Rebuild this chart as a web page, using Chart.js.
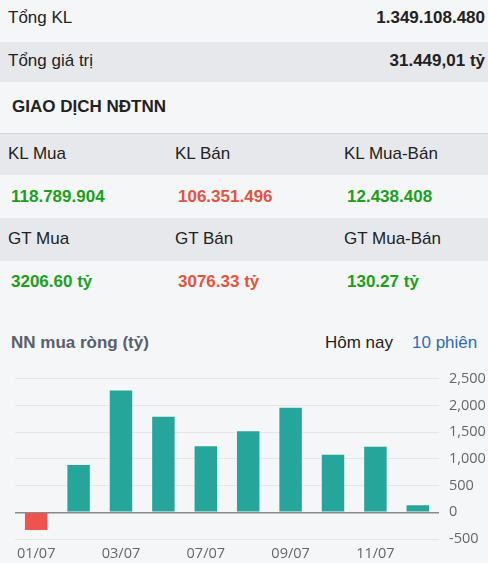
<!DOCTYPE html>
<html>
<head>
<meta charset="utf-8">
<script src="https://cdn.jsdelivr.net/npm/chart.js@4"></script>
<style>
  body { margin: 0; width: 488px; height: 563px; background: #f5f6f8; font-family: Arial, "Liberation Sans", sans-serif; color: #222; overflow: hidden; position: relative; }
  .row { position: absolute; left: 0; width: 488px; }
  .grey { background: #e6e8ec; }
  .t { position: absolute; font-size: 17px; white-space: nowrap; }
  .b { font-weight: bold; font-size: 17px; }
  .up { color: #1aa01a; }
  .down { color: #e5533f; }
  #chart { position: absolute; left: 0; top: 360px; }
</style>
</head>
<body>
<div class="row" style="top:0;height:42px"></div>
<div class="row grey" style="top:42px;height:40px"></div>
<div class="row" style="top:133px;height:1px;background:#d3d6db"></div>
<div class="row grey" style="top:134px;height:41px"></div>
<div class="row grey" style="top:218px;height:43px"></div>

<div class="t" style="left:8px;top:8px">Tổng KL</div>
<div class="t b" style="right:3px;top:8px">1.349.108.480</div>
<div class="t" style="left:8px;top:51px">Tổng giá trị</div>
<div class="t b" style="right:3px;top:51px">31.449,01 tỷ</div>
<div class="t b" style="left:12px;top:97px">GIAO DỊCH NĐTNN</div>

<div class="t" style="left:8px;top:144px">KL Mua</div>
<div class="t" style="left:175px;top:144px">KL Bán</div>
<div class="t" style="left:344px;top:144px">KL Mua-Bán</div>
<div class="t b up" style="left:11px;top:187px">118.789.904</div>
<div class="t b down" style="left:178px;top:187px">106.351.496</div>
<div class="t b up" style="left:347px;top:187px">12.438.408</div>

<div class="t" style="left:8px;top:229px">GT Mua</div>
<div class="t" style="left:175px;top:229px">GT Bán</div>
<div class="t" style="left:344px;top:229px">GT Mua-Bán</div>
<div class="t b up" style="left:11px;top:272px">3206.60 tỷ</div>
<div class="t b down" style="left:178px;top:272px">3076.33 tỷ</div>
<div class="t b up" style="left:347px;top:272px">130.27 tỷ</div>

<div class="t b" style="left:11px;top:333px;color:#58606b">NN mua ròng (tỷ)</div>
<div class="t" style="left:325px;top:333px">Hôm nay</div>
<div class="t" style="left:412px;top:333px;color:#2d6bb8">10 phiên</div>

<canvas id="chart" width="488" height="203"></canvas>

<script>
const sessions = ["01/07", "02/07", "03/07", "04/07", "07/07", "08/07", "09/07", "10/07", "11/07", "14/07"];
const netBuy = [-330, 885, 2280, 1790, 1235, 1515, 1955, 1075, 1225, 130];
const yTicks = [-500, 0, 500, 1000, 1500, 2000, 2500];

const ctx = document.getElementById("chart");

new Chart(ctx, {
    type: "bar",
    data: {
        labels: sessions,
        datasets: [{
            data: netBuy,
            backgroundColor: netBuy.map(v => v < 0 ? "#ef5350" : "#26a69a"),
            barPercentage: 0.53,
            categoryPercentage: 1
        }]
    },
    options: {
        responsive: false,
        animation: false,
        layout: { padding: { left: 15, top: 8, right: 0, bottom: 0 } },
        plugins: { legend: { display: false }, tooltip: { enabled: false } },
        scales: {
            x: {
                grid: { display: false, drawTicks: false },
                border: { display: false },
                afterFit: axis => { axis.height = 24; },
                ticks: {
                    autoSkip: false,
                    maxRotation: 0,
                    padding: 6,
                    color: "#666",
                    font: { family: "Open Sans", size: 14.5 },
                    callback: (v, i) => i % 2 === 0 ? sessions[i] : ""
                }
            },
            y: {
                position: "right",
                min: yTicks[0],
                max: yTicks[yTicks.length - 1],
                afterBuildTicks: axis => { axis.ticks = yTicks.map(v => ({ value: v })); },
                afterFit: axis => { axis.width = 49; },
                grid: {
                    drawTicks: false,
                    color: c => c.tick && c.tick.value === 0 ? "#8a8a8a" : "#e4e6ea",
                    lineWidth: c => c.tick && c.tick.value === 0 ? 1.5 : 1
                },
                border: { display: false },
                ticks: {
                    padding: 10,
                    color: "#666",
                    font: { family: "Open Sans", size: 14.5 },
                    callback: v => v.toLocaleString("en-US")
                }
            }
        }
    }
});
</script>
</body>
</html>
